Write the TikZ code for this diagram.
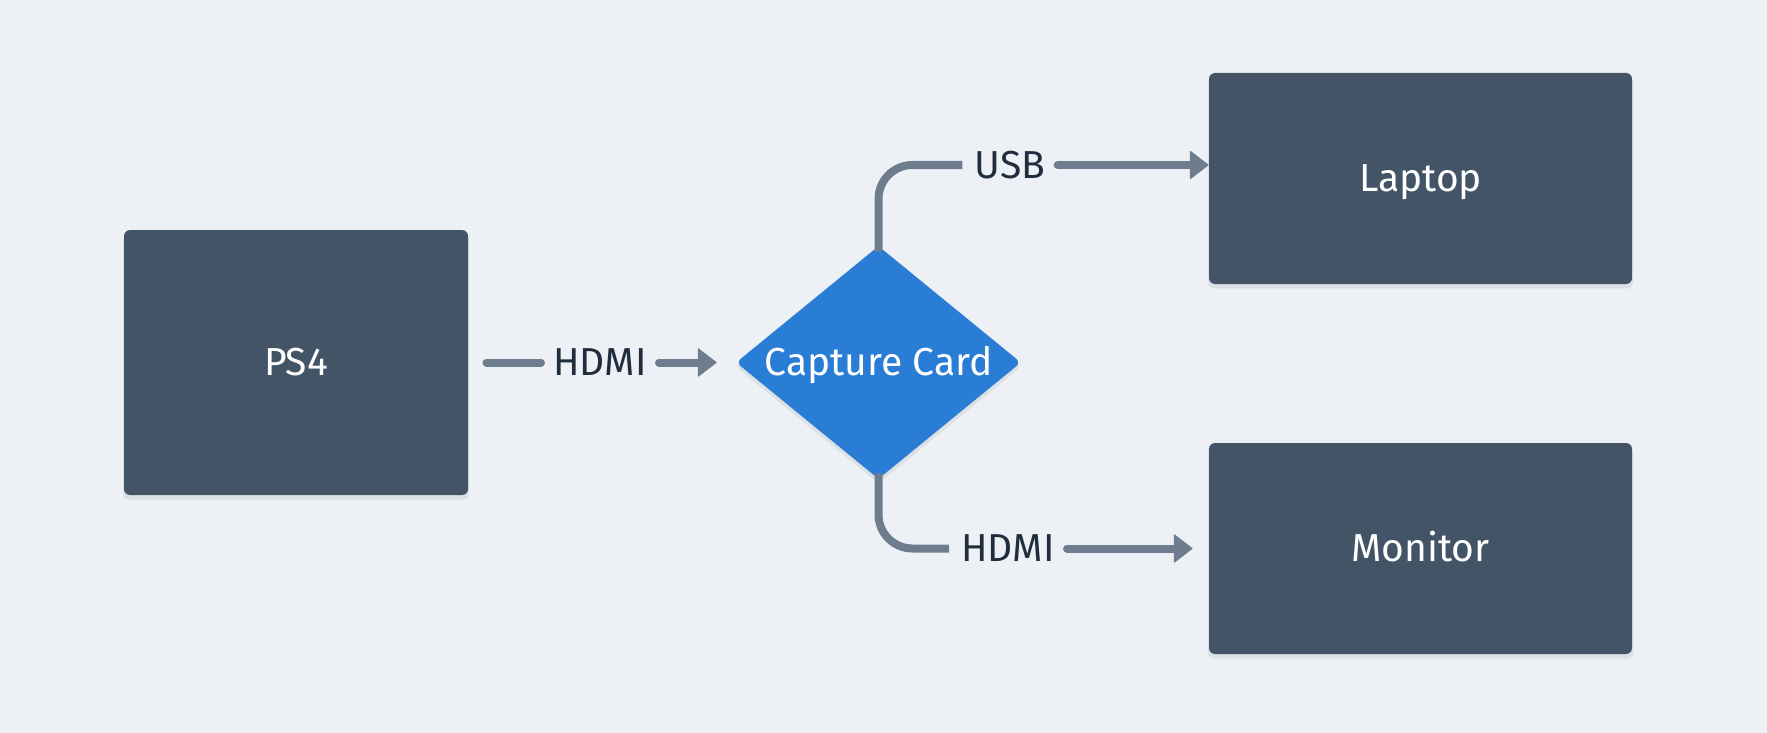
\documentclass[tikz,border=0pt]{standalone}
\usepackage{fontspec}
\setmainfont{Fira Sans}
\usetikzlibrary{arrows.meta,shapes.geometric,shadows}
\definecolor{bgcol}{HTML}{EDF1F6}
\definecolor{boxcol}{HTML}{425466}
\definecolor{cardcol}{HTML}{2A7DD5}
\definecolor{wirecol}{HTML}{6E7D8D}
\definecolor{labcol}{HTML}{1F2D3D}
\begin{document}
\begin{tikzpicture}[x=0.5pt,y=-0.5pt,
  device/.style={rectangle,rounded corners=3pt,fill=boxcol,text=white,font=\fontsize{19.5}{23}\selectfont,
    text height=13.4pt,text depth=0pt,drop shadow={opacity=0.14,shadow xshift=0pt,shadow yshift=-2pt,shadow scale=1.005}},
  card/.style={diamond,aspect=1.22,rounded corners=3pt,fill=cardcol,text=white,inner sep=0pt,font=\fontsize{19.5}{23}\selectfont,
    text height=13.4pt,text depth=0pt,minimum width=142.5pt,minimum height=116.5pt,
    drop shadow={opacity=0.14,shadow xshift=0pt,shadow yshift=-2pt,shadow scale=1.005}},
  wire/.style={draw=wirecol,line width=4pt,line cap=round,rounded corners=17pt},
  tip/.style={-{Triangle[length=9.5pt,width=14.5pt,line width=0.5pt,round]}},
  wirelab/.style={text=labcol,inner xsep=6pt,inner ysep=0pt,text height=13.4pt,text depth=0pt,font=\fontsize{19.5}{23}\selectfont}]
\fill[bgcol](0,0)rectangle(1767,733);
\useasboundingbox(0,0)rectangle(1767,733);
\node[device,minimum width=172pt,minimum height=132.5pt](ps4)at(296,362.5){PS4};
\node[card](cap)at(878.5,362.5){Capture Card};
\node[device,minimum width=211.5pt,minimum height=105.5pt](laptop)at(1420.5,178.5){Laptop};
\node[device,minimum width=211.5pt,minimum height=105.5pt](monitor)at(1420.5,548.5){Monitor};
\node[wirelab](hdmiin)at(600,362.5){HDMI};
\node[wirelab](usb)at(1010,165){USB};
\node[wirelab](hdmiout)at(1008,548.5){HDMI};
\draw[wire,shorten <=9pt](ps4.east)--(hdmiin.west);
\draw[wire,tip,shorten >=9.5pt](hdmiin.east)--(cap.west);
\draw[wire,line cap=butt,shorten <=-3pt](cap.north)|-(usb.west);
\draw[wire,tip](usb.east)--(laptop.west|-usb.east);
\draw[wire,line cap=butt,shorten <=-3pt](cap.south)|-(hdmiout.west);
\draw[wire,tip,shorten >=8pt](hdmiout.east)--(monitor.west);
\end{tikzpicture}
\end{document}
